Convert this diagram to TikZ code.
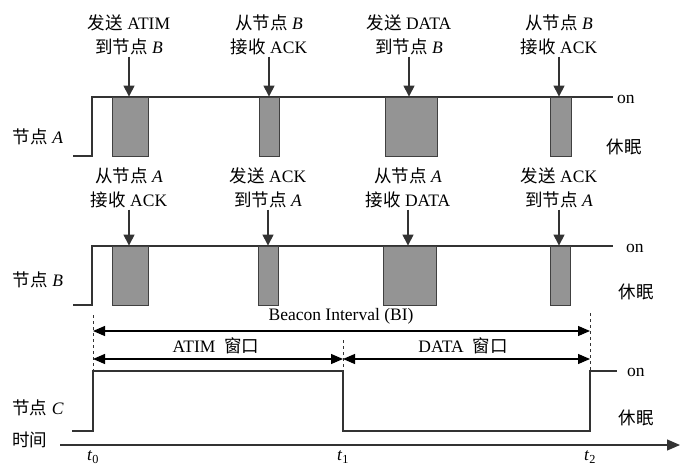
\documentclass[tikz,border=0pt]{standalone}
\usepackage{fontspec}
\setmainfont{Liberation Serif}
\newfontfamily\cjk{Noto Sans CJK SC}
\usetikzlibrary{arrows.meta}
\newcommand{\zh}[1]{{\cjk #1}}

\tikzset{
  sig/.style={draw=black!80, line width=1.2pt},
  slot/.style={draw=black!75, fill=black!42, line width=0.8pt, inner sep=0pt, minimum height=59pt},
  evt/.style={align=center},
  down/.style={-{Triangle[length=11pt,width=11pt]}, draw=black!80, line width=1.1pt},
  span/.style={{Triangle[length=12pt,width=10pt]}-{Triangle[length=12pt,width=10pt]}, line width=1.1pt},
  mark0/.style={draw=black!80, line width=0.8pt, dashed},
}

\begin{document}
\begin{tikzpicture}[x=1pt, y=-1pt, every node/.style={font=\fontsize{17.5}{24.5}\selectfont, inner sep=1pt}]
  \useasboundingbox (0,0) rectangle (680,468);

  % Node A
  \node (nA) at (38,137) {\zh{节点} \textit{A}};
  \draw[sig] (73,156) -- (92,156) -- (92,97) -- (613,97);
  \foreach \n/\x/\w in {1/130/36, 2/269/20, 3/411/52, 4/560.5/21}
    \node[slot, minimum width=\w pt] (a\n) at (\x,126.5) {};
  \node[evt] (la1) at (129,35) {\zh{发送} ATIM\\\zh{到节点} \textit{B}};
  \node[evt] (la2) at (269,35) {\zh{从节点} \textit{B}\\\zh{接收} ACK};
  \node[evt] (la3) at (409,35) {\zh{发送} DATA\\\zh{到节点} \textit{B}};
  \node[evt] (la4) at (559,35) {\zh{从节点} \textit{B}\\\zh{接收} ACK};
  \foreach \n in {1,...,4}
    \draw[down] (la\n.south) -- (la\n.south |- a\n.north);
  \node[anchor=west] (onA) at (616,99) {on};
  \node (offA) at (624,147) {\zh{休眠}};

  % Node B
  \node (nB) at (38,280) {\zh{节点} \textit{B}};
  \draw[sig] (73,305) -- (92,305) -- (92,246) -- (613,246);
  \foreach \n/\x/\w in {1/130/36, 2/268/20, 3/409.5/53, 4/560/20}
    \node[slot, minimum width=\w pt] (b\n) at (\x,275.5) {};
  \node[evt] (lb1) at (129,188) {\zh{从节点} \textit{A}\\\zh{接收} ACK};
  \node[evt] (lb2) at (268,188) {\zh{发送} ACK\\\zh{到节点} \textit{A}};
  \node[evt] (lb3) at (408,188) {\zh{从节点} \textit{A}\\\zh{接收} DATA};
  \node[evt] (lb4) at (559,188) {\zh{发送} ACK\\\zh{到节点} \textit{A}};
  \foreach \n in {1,...,4}
    \draw[down] (lb\n.south) -- (lb\n.south |- b\n.north);
  \node[anchor=west] (onB) at (625,248) {on};
  \node (offB) at (636,292) {\zh{休眠}};

  % Beacon interval and windows
  \coordinate (t0) at (93,371);
  \coordinate (t1) at (343,371);
  \coordinate (t2) at (590,371);
  \coordinate (d0) at (93,315);
  \coordinate (d1) at (343,340);
  \coordinate (d2) at (590,313);
  \draw[mark0] (d0) -- (t0);
  \draw[mark0] (d1) -- (t1);
  \draw[mark0] (d2) -- (t2);
  \coordinate (bi0) at (93,331);
  \coordinate (bi1) at (590,331);
  \draw[span] (bi0) -- (bi1);
  \node (bi) at (341,316) {Beacon Interval (BI)};
  \coordinate (w0) at (93,359);
  \coordinate (w1) at (343,359);
  \coordinate (w2) at (590,359);
  \draw[span] (w0) -- (w1);
  \draw[span] (w1) -- (w2);
  \node (atim) at (216,346) {ATIM\ \ \zh{窗口}};
  \node (data) at (463,346) {DATA\ \ \zh{窗口}};

  % Node C
  \node (nC) at (38,408) {\zh{节点} \textit{C}};
  \draw[sig] (72,431) -- (93,431) -- (t0) -- (t1) -- (343,431) -- (590,431) -- (t2) -- (617,371);
  \node[anchor=west] (onC) at (626,372) {on};
  \node (offC) at (636,418) {\zh{休眠}};

  % Time axis
  \node (time) at (30,440) {\zh{时间}};
  \coordinate (ax0) at (60,445);
  \coordinate (ax1) at (680,445);
  \draw[sig, -{Triangle[length=13pt,width=11pt]}] (ax0) -- (ax1);
  \node (lt0) at (93,457) {\textit{t}\textsubscript{0}};
  \node (lt1) at (343,457) {\textit{t}\textsubscript{1}};
  \node (lt2) at (590,457) {\textit{t}\textsubscript{2}};
\end{tikzpicture}
\end{document}
